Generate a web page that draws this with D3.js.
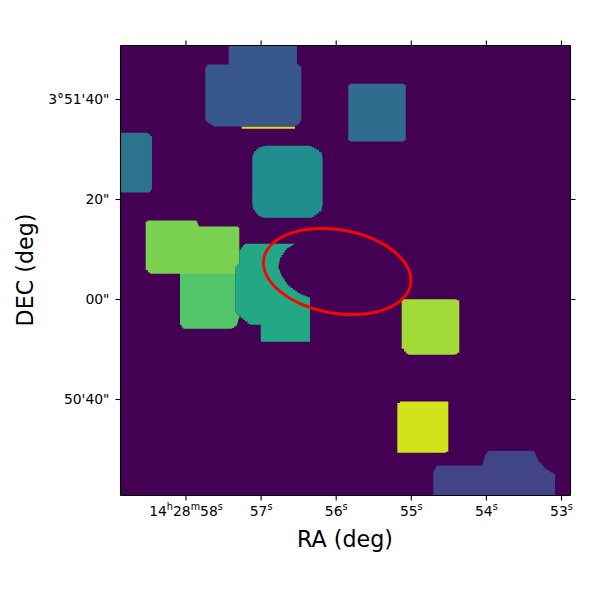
<!DOCTYPE html>
<html><head><meta charset="utf-8">
<script src="https://cdn.jsdelivr.net/npm/d3@7"></script>
<style>html,body{margin:0;background:#fff}svg{display:block}text{font-family:"DejaVu Sans";fill:#000}</style>
</head><body><svg id="c" width="600" height="600"></svg>
<script>
// RA in seconds of 14h28m, Dec in arcsec from 3d51m00s
const raDomain=[58.872,52.880], decDomain=[50.8,-39.2];
const raTicks=[58,57,56,55,54,53];
const raLabels=["14h28m58s","57s","56s","55s","54s","53s"];
const decTicks=[40,20,0,-20];
const decLabels=["3°51'40\"","20\"","00\"","50'40\""];
const background=0;
const fieldStrip=[[57.258,34.6],[56.549,34.6],[56.549,34.14],[57.258,34.14]];
const fieldBlue=[[57.431,50.8],[56.522,50.8],[56.522,47],[56.495,47],[56.465,46.4],[56.465,35.94],[56.495,35.14],[56.549,34.6],[57.627,34.6],[57.716,35.46],[57.743,35.94],[57.743,46.2],[57.716,47],[57.431,47]];
const fieldLeft=[[58.872,33.34],[58.506,33.34],[58.453,32.46],[58.453,22.2],[58.479,21.4],[58.872,21.4]];
const fieldCentre=[[56.944,30.74],[56.349,30.74],[56.296,30.34],[56.229,29.8],[56.193,29.14],[56.18,28.2],[56.18,19.14],[56.198,17.8],[56.26,17],[56.326,16.34],[56.971,16.34],[57.037,16.8],[57.104,18.14],[57.117,19.14],[57.117,28.46],[57.091,29.46],[57.037,30.34]];
const fieldUpperRight=[[55.812,43.14],[55.101,43.14],[55.074,42.74],[55.074,32],[55.101,31.6],[55.812,31.6],[55.839,32],[55.839,42.74]];
const fieldLight=[[58.08,6.8],[57.344,6.8],[57.344,-2.2],[57.29,-3.54],[57.325,-5.2],[57.391,-5.86],[58.036,-5.86],[58.08,-4.86]];
const fieldLime=[[58.51,15.8],[57.858,15.8],[57.827,14.6],[57.31,14.6],[57.29,14.2],[57.29,7],[57.344,6],[57.344,5.14],[58.479,5.14],[58.537,6.14],[58.537,15.4]];
const fieldGreen=[[57.214,11.14],[56.549,11.14],[56.659,10.14],[56.748,8.14],[56.771,6.46],[56.726,4.8],[56.638,2.8],[56.482,1.14],[56.349,0.34],[56.349,-8.46],[57.001,-8.46],[57.005,-7.8],[57.005,-5.06],[57.148,-5.06],[57.214,-4.2],[57.304,-3.2],[57.344,-2.2],[57.344,6.46],[57.29,7.46],[57.29,9.8]];
const fieldBright=[[55.11,0.06],[54.395,0.06],[54.361,-0.4],[54.361,-10.54],[54.418,-11.06],[55.04,-11.06],[55.097,-10.2],[55.128,-9.54],[55.128,-0.2]];
const fieldYellow=[[55.15,-20.4],[54.507,-20.4],[54.507,-30.2],[54.538,-30.66],[55.186,-30.66],[55.186,-21]];
const fieldBottom=[[54.707,-39.2],[54.707,-34.54],[54.654,-33.2],[54.054,-33.2],[54.018,-31.2],[53.975,-30.26],[53.366,-30.26],[53.309,-32.2],[53.21,-33.86],[53.109,-34.74],[53.086,-35],[53.086,-39.2]];
const fields=[fieldStrip,fieldBlue,fieldLeft,fieldCentre,fieldUpperRight,fieldLight,fieldLime,fieldGreen,fieldBright,fieldYellow,fieldBottom];
const fieldValues=[0.95,0.27,0.38,0.49,0.35,0.73,0.8,0.6,0.86,0.93,0.2];
const ellipseCentre=[55.987,5.6], ellipseAxes=[14.9,8.34], ellipseTilt=9.9; // arcsec, degrees

const L=120.5,R=570.5,T=45.5,B=495.5;
const x=d3.scaleLinear().domain(raDomain).range([L,R]);
const y=d3.scaleLinear().domain(decDomain).range([T,B]);
const color=d3.scaleSequential(d3.interpolateViridis).domain([0,1]);
const svg=d3.select("#c");
svg.append("defs").append("clipPath").attr("id","p").append("rect").attr("x",L).attr("y",T).attr("width",R-L).attr("height",B-T);
const g=svg.append("g").attr("clip-path","url(#p)");
g.append("rect").attr("x",L).attr("y",T).attr("width",R-L).attr("height",B-T).attr("fill",color(background));
const line=d3.line().x(d=>x(d[0])).y(d=>y(d[1]));
// the mosaic is a raster: diagonal outline edges are drawn as pixel stairs
const cell=2.25;
function stairs(poly){
  const pts=poly.map(d=>[x(d[0]),y(d[1])]), out=[];
  pts.forEach((p,i)=>{
    const q=pts[(i+1)%pts.length], dx=q[0]-p[0], dy=q[1]-p[1];
    out.push(p);
    if(Math.abs(dx)<0.3||Math.abs(dy)<0.3) return;
    const n=Math.max(1,Math.round(Math.max(Math.abs(dx),Math.abs(dy))/cell));
    for(let k=0;k<n;k++){
      const yy=p[1]+dy*(k+.5)/n;
      out.push([p[0]+dx*k/n,yy]);
      out.push([p[0]+dx*(k+1)/n,yy]);
    }
  });
  return "M"+out.map(d=>d[0].toFixed(2)+","+d[1].toFixed(2)).join("L")+"Z";
}
g.selectAll("path.f").data(fields).join("path").attr("class","f")
 .attr("d",stairs).attr("fill",(d,i)=>color(fieldValues[i]));
const secPerArcsec=(raDomain[0]-raDomain[1])/(decDomain[0]-decDomain[1]);
const th=ellipseTilt*Math.PI/180;
const ell=d3.range(0,361,2).map(a=>{const t=a*Math.PI/180;
  const u=ellipseAxes[0]*Math.cos(t),v=ellipseAxes[1]*Math.sin(t);
  const e=u*Math.cos(th)-v*Math.sin(th), n=u*Math.sin(th)+v*Math.cos(th);
  return [ellipseCentre[0]-e*secPerArcsec, ellipseCentre[1]-n];});
g.append("path").attr("d",line(ell)+"Z").attr("fill","none").attr("stroke","#ff0000").attr("stroke-width",2.9);

const ts=5;
const ax=(gen,tx,ty)=>{const a=svg.append("g").attr("transform",`translate(${tx},${ty})`).call(gen);
  a.select(".domain").attr("stroke","#000").attr("stroke-width",1.1);
  a.selectAll(".tick line").attr("stroke","#000").attr("stroke-width",1.1);return a;};
const ab=ax(d3.axisBottom(x).offset(0).tickValues(raTicks).tickSize(ts).tickSizeOuter(0).tickPadding(5),0,B);
ax(d3.axisTop(x).offset(0).tickValues(raTicks).tickSize(ts).tickSizeOuter(0).tickFormat(""),0,T);
const al=ax(d3.axisLeft(y).offset(0).tickValues(decTicks).tickSize(ts).tickSizeOuter(0).tickPadding(6),L,0);
ax(d3.axisRight(y).offset(0).tickValues(decTicks).tickSize(ts).tickSizeOuter(0).tickFormat(""),R,0);
ab.selectAll(".tick text").each(function(d,i){
  const t=d3.select(this).text(null).attr("font-size",13.9).attr("font-family","DejaVu Sans").attr("y",null).attr("dy",null).attr("transform","translate(0,20)");
  let up=false;
  raLabels[i].match(/\d+|[hms]/g).forEach(p=>{
    const sup=/[hms]/.test(p);
    const s=t.append("tspan").text(p).attr("font-size",sup?9.7:13.9);
    if(sup){s.attr("dy",-5.5);up=true;} else if(up){s.attr("dy",5.5);up=false;}
  });
});
al.selectAll(".tick text").text((d,i)=>decLabels[i]).attr("font-size",13.9).attr("font-family","DejaVu Sans").attr("fill","#000");
svg.append("text").attr("x",345).attr("y",547).attr("text-anchor","middle").attr("font-size",22.2).text("RA (deg)");
svg.append("text").attr("transform","translate(33,270) rotate(-90)").attr("text-anchor","middle").attr("font-size",22.2).text("DEC (deg)");
</script></body></html>
